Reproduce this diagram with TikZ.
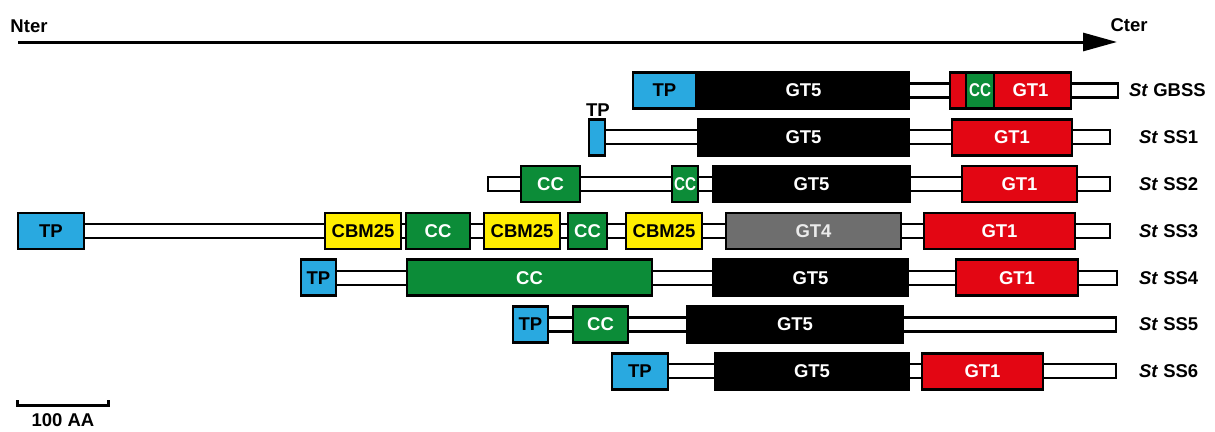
\documentclass[tikz,border=0pt]{standalone}
\usepackage{fontspec}
\setmainfont{Liberation Sans}
\usetikzlibrary{arrows.meta}
\definecolor{tpblue}{RGB}{41,169,224}
\definecolor{ccgreen}{RGB}{12,140,56}
\definecolor{gtred}{RGB}{227,6,19}
\definecolor{cbmyellow}{RGB}{255,237,0}
\definecolor{gtgrey}{RGB}{110,110,110}
\newcommand\dom[6]{\node[dom,#5,minimum width={#3-#2}] (#1) at ({(#2+#3)/2},#4) {#6};}
\newcommand\bbone[4]{\node[backbone,minimum width={#3-#2}] (#1) at ({(#2+#3)/2},#4) {};}
\newcommand\narrow[1]{\scalebox{0.82}[1]{#1}}
\begin{document}
\begin{tikzpicture}[x=1pt,y=-1pt,
  every node/.style={font=\fontsize{18.5}{18.5}\selectfont\bfseries, inner sep=0pt, outer sep=0pt},
  dom/.style={draw=black, line width=2.5pt, minimum height=36pt},
  backbone/.style={draw=black, fill=white, line width=2.2pt, minimum height=14pt},
  tp/.style={fill=tpblue, text=black},
  gtfive/.style={fill=black, text=white},
  gtone/.style={fill=gtred, text=white},
  cc/.style={fill=ccgreen, text=white},
  cbm/.style={fill=cbmyellow, text=black},
  gtfour/.style={fill=gtgrey, text=white!92!black},
  rowlabel/.style={anchor=west}]
\useasboundingbox (0,0) rectangle (1215,431);
% axis
\node (nter) at (29,26) {Nter};
\node (cter) at (1129,25) {Cter};
\coordinate (axs) at (18,42);
\coordinate (axe) at (1117,42);
\draw[line width=3pt, -{Triangle[length=34pt,width=18pt]}] (axs) -- (axe);
% GBSS
\bbone{b1}{640}{1118}{90.5}
\dom{g1tp}{633}{696}{90.5}{tp}{TP}
\dom{g1gt5}{698}{909}{90.5}{gtfive}{GT5}
\dom{g1gt1}{950}{1071}{90.5}{gtone}{\hspace*{40pt}GT1}
\dom{g1cc}{966}{994}{90.5}{cc}{\narrow{CC}}
\node[rowlabel] (l1) at (1129,90.5) {\textit{St} GBSS};
% SS1
\bbone{b2}{600}{1110}{137.3}
\dom{s1tp}{589}{605}{137.3}{tp}{}
\node (s1tplab) at (598,110) {TP};
\dom{s1gt5}{698}{909}{137.3}{gtfive}{GT5}
\dom{s1gt1}{952}{1072}{137.3}{gtone}{GT1}
\node[rowlabel] (l2) at (1139,137.3) {\textit{St} SS1};
% SS2
\bbone{b3}{488}{1110}{184.1}
\dom{s2cca}{521}{580}{184.1}{cc}{CC}
\dom{s2ccb}{672}{698}{184.1}{cc}{\narrow{CC}}
\dom{s2gt5}{713}{910}{184.1}{gtfive}{GT5}
\dom{s2gt1}{962}{1077}{184.1}{gtone}{GT1}
\node[rowlabel] (l3) at (1139,184.1) {\textit{St} SS2};
% SS3
\bbone{b4}{50}{1110}{230.9}
\dom{s3tp}{18}{84}{230.9}{tp}{TP}
\dom{s3cbma}{325}{401}{230.9}{cbm}{CBM25}
\dom{s3cca}{406}{470}{230.9}{cc}{CC}
\dom{s3cbmb}{484}{560}{230.9}{cbm}{CBM25}
\dom{s3ccb}{568}{607}{230.9}{cc}{CC}
\dom{s3cbmc}{626}{702}{230.9}{cbm}{CBM25}
\dom{s3gt4}{726}{901}{230.9}{gtfour}{GT4}
\dom{s3gt1}{924}{1075}{230.9}{gtone}{GT1}
\node[rowlabel] (l4) at (1139,230.9) {\textit{St} SS3};
% SS4
\bbone{b5}{320}{1117}{277.7}
\dom{s4tp}{301}{336}{277.7}{tp}{TP}
\dom{s4cc}{407}{652}{277.7}{cc}{CC}
\dom{s4gt5}{713}{908}{277.7}{gtfive}{GT5}
\dom{s4gt1}{956}{1078}{277.7}{gtone}{GT1}
\node[rowlabel] (l5) at (1139,277.7) {\textit{St} SS4};
% SS5
\bbone{b6}{530}{1116}{324.5}
\dom{s5tp}{513}{548}{324.5}{tp}{TP}
\dom{s5cc}{573}{628}{324.5}{cc}{CC}
\dom{s5gt5}{687}{903}{324.5}{gtfive}{GT5}
\node[rowlabel] (l6) at (1139,324.5) {\textit{St} SS5};
% SS6
\bbone{b7}{640}{1116}{371.3}
\dom{s6tp}{612}{668}{371.3}{tp}{TP}
\dom{s6gt5}{715}{909}{371.3}{gtfive}{GT5}
\dom{s6gt1}{922}{1043}{371.3}{gtone}{GT1}
\node[rowlabel] (l7) at (1139,371.3) {\textit{St} SS6};
% scale bar
\coordinate (sba) at (17.5,400);
\coordinate (sbb) at (108.5,400);
\draw[line width=3pt] (sba) -- ++(0,5) -| (sbb);
\node (sblab) at (63,420) {100 AA};
\end{tikzpicture}
\end{document}
